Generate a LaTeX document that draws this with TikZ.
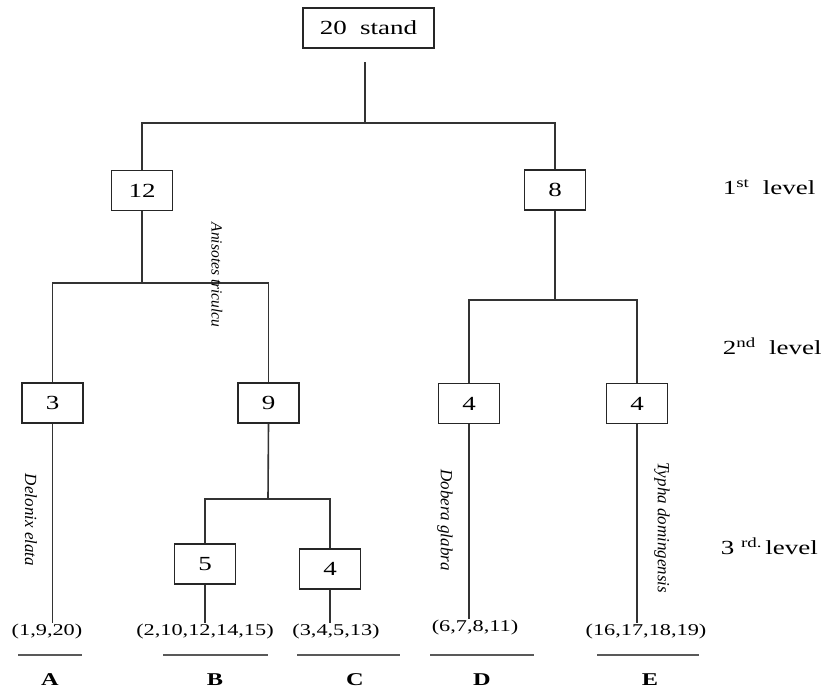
\documentclass[tikz,border=0pt]{standalone}
\usepackage{fontspec}
\setmainfont{Liberation Serif}[FakeStretch=1.35]
\newfontfamily\spfont{Liberation Serif}
\begin{document}
\begin{tikzpicture}[x=1pt,y=-1pt,
  line width=1.6pt,
  conn/.style={draw=black!80},
  box/.style={draw=black!85, line width=1.5pt, fill=white, minimum width=61pt,
    minimum height=40pt, inner sep=0pt, font=\fontsize{20}{24}\selectfont},
  leaf/.style={inner sep=1pt, font=\fontsize{16.5}{20}\selectfont},
  species/.style={rotate=-90, inner sep=0pt, font=\spfont\itshape\fontsize{17}{20}\selectfont},
  lvl/.style={anchor=west, inner sep=0pt, font=\fontsize{20}{24}\selectfont},
  group/.style={inner sep=0pt, anchor=base, font=\bfseries\fontsize{18}{22}\selectfont},
  underl/.style={draw=black!65, line width=2.6pt}]
\useasboundingbox (0,0) rectangle (822,689);

% tree boxes
\node[box, minimum width=131pt] (root) at (368.5,28) {20\ \ stand};
\node[box] (n12) at (142,190.5) {12};
\node[box] (n8)  at (555,190) {8};
\node[box] (n3)  at (52.5,403) {3};
\node[box] (n9)  at (268.5,403) {9};
\node[box] (nD)  at (469,403.5) {4};
\node[box] (nE)  at (637,403.5) {4};
\node[box] (n5)  at (205,564) {5};
\node[box] (nC)  at (330,569) {4};

% junction points of the branches
\coordinate (top) at (365,62);
\coordinate (j1) at (365,123);
\coordinate (j2) at (142,283);
\coordinate (j3) at (555,300);
\coordinate (j4) at (268,499);

% leaf groups
\node[leaf] (lA) at (47,632) {(1,9,20)};
\node[leaf] (lB) at (205,632) {(2,10,12,14,15)};
\node[leaf] (lC) at (336,632) {(3,4,5,13)};
\node[leaf] (lD) at (475,628) {(6,7,8,11)};
\node[leaf] (lE) at (646,632) {(16,17,18,19)};

% branches
\draw[conn] (top) -- (j1);
\draw[conn] (n12.north) |- (j1) -| (n8.north);
\draw[conn] (n12.south) -- (j2);
\draw[conn] (n3.north) |- (j2) -| (n9.north);
\draw[conn] (n8.south) -- (j3);
\draw[conn] (nD.north) |- (j3) -| (nE.north);
\draw[conn] (n9.south) -- (j4);
\draw[conn] (n5.north) |- (j4) -| (nC.north);

% stems down to the leaf groups
\draw[conn] (n3.south) -- (n3.south |- lA.north);
\draw[conn] (n5.south) -- (n5.south |- lB.north);
\draw[conn] (nC.south) -- (nC.south |- lC.north);
\draw[conn] (nD.south) -- (nD.south |- lD.north);
\draw[conn] (nE.south) -- (nE.south |- lE.north);

% species names
\node[species, font=\spfont\itshape\fontsize{15.5}{18}\selectfont] (sp1) at (217,275) {Anisotes triculcu};
\node[species] (sp2) at (31,520) {Delonix elata};
\node[species] (sp3) at (445,520) {Dobera glabra};
\node[species] (sp4) at (662,528) {Typha domingensis};

% level labels
\node[lvl] (L1) at (722,187) {1\textsuperscript{st}\ \ level};
\node[lvl] (L2) at (722,346) {2\textsuperscript{nd}\ \ level};
\node[lvl] (L3) at (720,546) {3\ \textsuperscript{rd.}\,level};

% group underlines and letters
\draw[underl] (18,655) -- (82,655);
\draw[underl] (163,655) -- (268,655);
\draw[underl] (297,655) -- (400,655);
\draw[underl] (430,655) -- (534,655);
\draw[underl] (597,655) -- (699,655);
\node[group] (gA) at (50,685) {A};
\node[group] (gB) at (215,685) {B};
\node[group] (gC) at (355,685) {C};
\node[group] (gD) at (482,685) {D};
\node[group] (gE) at (650,685) {E};
\end{tikzpicture}
\end{document}
